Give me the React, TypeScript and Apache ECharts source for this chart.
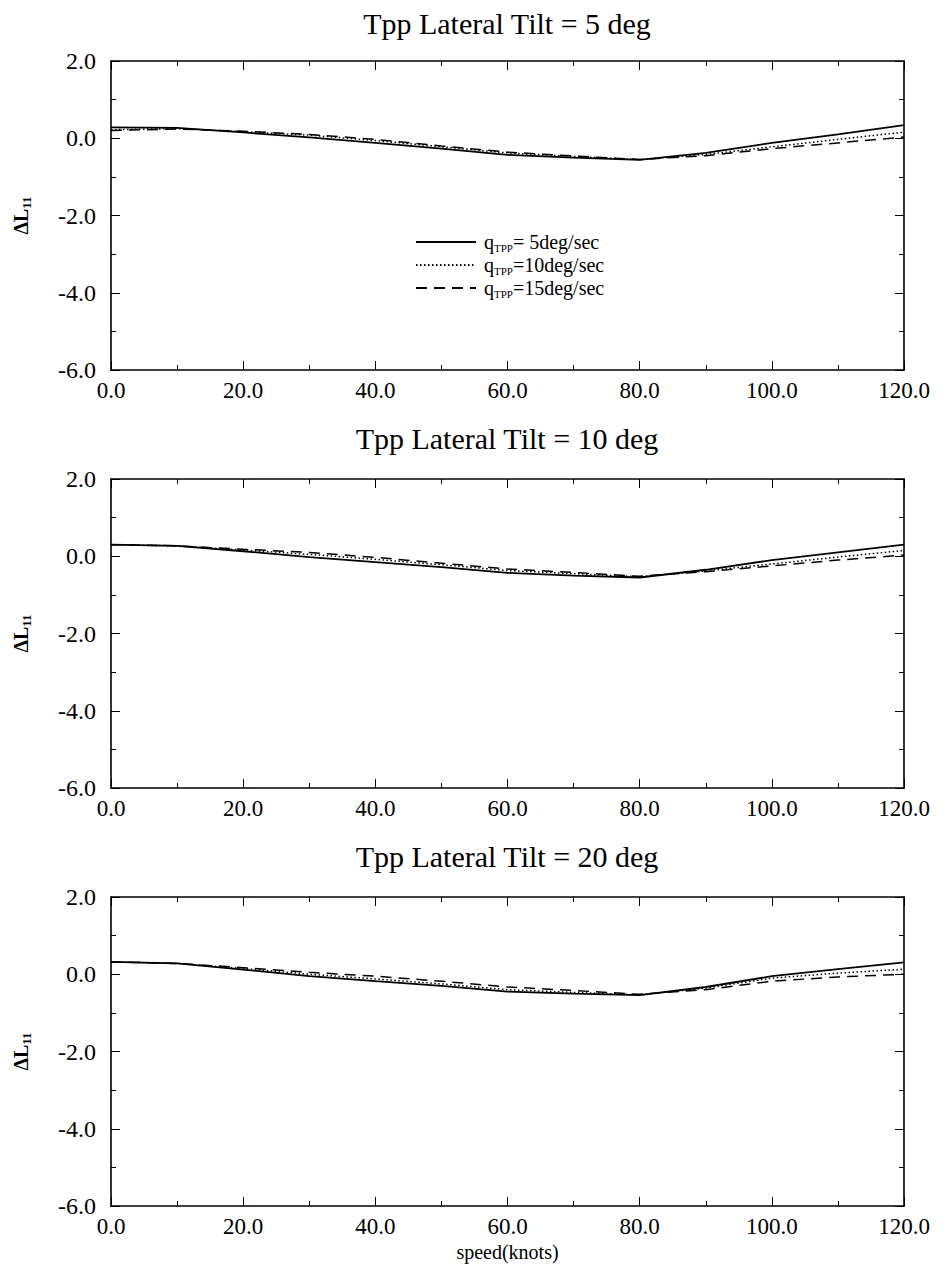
import React, { useEffect, useRef } from "react";
import * as echarts from "echarts";

const speeds = [0, 10, 20, 30, 40, 50, 60, 70, 80, 90, 100, 110, 120];
const panelTitles = ["Tpp Lateral Tilt = 5 deg", "Tpp Lateral Tilt = 10 deg", "Tpp Lateral Tilt = 20 deg"];
const seriesNames = ["q5", "q10", "q15"];
const legendLabels = ["= 5deg/sec", "=10deg/sec", "=15deg/sec"];

// Tilt 5 deg
const p1Solid = [0.28, 0.27, 0.15, 0.02, -0.12, -0.27, -0.43, -0.5, -0.56, -0.38, -0.12, 0.1, 0.34];
const p1Dotted = [0.22, 0.25, 0.17, 0.08, -0.06, -0.22, -0.38, -0.47, -0.55, -0.42, -0.22, -0.03, 0.16];
const p1Dashed = [0.2, 0.24, 0.18, 0.1, -0.03, -0.2, -0.36, -0.46, -0.55, -0.45, -0.27, -0.12, 0.03];
// Tilt 10 deg
const p2Solid = [0.3, 0.27, 0.13, -0.02, -0.15, -0.28, -0.43, -0.5, -0.55, -0.35, -0.1, 0.1, 0.3];
const p2Dotted = [0.3, 0.27, 0.16, 0.05, -0.08, -0.22, -0.37, -0.45, -0.53, -0.38, -0.2, -0.02, 0.15];
const p2Dashed = [0.3, 0.27, 0.18, 0.1, -0.03, -0.18, -0.33, -0.42, -0.52, -0.4, -0.25, -0.1, 0.03];
// Tilt 20 deg
const p3Solid = [0.32, 0.28, 0.12, -0.05, -0.18, -0.3, -0.45, -0.5, -0.54, -0.33, -0.05, 0.13, 0.31];
const p3Dotted = [0.32, 0.28, 0.15, 0.0, -0.12, -0.25, -0.4, -0.47, -0.53, -0.36, -0.1, 0.03, 0.13];
const p3Dashed = [0.32, 0.28, 0.17, 0.05, -0.05, -0.18, -0.33, -0.42, -0.52, -0.4, -0.18, -0.07, 0.0];

const panels = [
  [p1Solid, p1Dotted, p1Dashed],
  [p2Solid, p2Dotted, p2Dashed],
  [p3Solid, p3Dotted, p3Dashed],
];

const SERIF = "Liberation Serif";

export default function App() {
  const ref = useRef<HTMLDivElement>(null);
  useEffect(() => {
    if (!ref.current) return;
    const chart = echarts.init(ref.current, undefined, { renderer: "svg" });
    const gridTops = [53, 471, 889];
    const gridH = 309;
    const grids: any[] = [];
    const xAxes: any[] = [];
    const yAxes: any[] = [];
    const series: any[] = [];
    const titles: any[] = [];
    const lineTypes: any[] = ["solid", [1.5, 2.5], [11, 7]];
    const axisLine = { show: true, onZero: false, lineStyle: { color: "#000", width: 1.6 } };
    gridTops.forEach((top, i) => {
      grids.push({ left: 103, right: 29, top, height: gridH, show: false, containLabel: false, outerBoundsMode: "none" });
      titles.push({
        text: panelTitles[i],
        left: 499,
        textAlign: "center",
        top: Math.max(0, top - 56),
        padding: 0,
        textStyle: { fontFamily: SERIF, fontSize: 30, fontWeight: "normal", color: "#000" },
      });
      const xBase = {
        type: "value",
        gridIndex: i,
        min: 0,
        max: 120,
        interval: 20,
        axisLine,
        splitLine: { show: false },
        axisTick: { show: true, inside: true, length: 9, lineStyle: { color: "#000", width: 1 } },
        minorTick: { show: true, splitNumber: 2, length: 5, lineStyle: { color: "#000", width: 1 } },
      };
      xAxes.push({
        ...xBase,
        position: "bottom",
        axisLabel: {
          show: true,
          margin: 9,
          fontFamily: SERIF,
          fontSize: 23,
          color: "#000",
          formatter: (v: number) => v.toFixed(1),
        },
        name: i === 2 ? "speed(knots)" : "",
        nameLocation: "middle",
        nameGap: 36,
        nameTextStyle: { fontFamily: SERIF, fontSize: 20, color: "#000" },
      });
      xAxes.push({ ...xBase, position: "top", axisLabel: { show: false } });
      const yBase = {
        type: "value",
        gridIndex: i,
        min: -6,
        max: 2,
        interval: 2,
        axisLine,
        splitLine: { show: false },
        axisTick: { show: true, inside: true, length: 9, lineStyle: { color: "#000", width: 1 } },
        minorTick: { show: true, splitNumber: 2, length: 5, lineStyle: { color: "#000", width: 1 } },
      };
      yAxes.push({
        ...yBase,
        position: "left",
        axisLabel: {
          show: true,
          margin: 15,
          fontFamily: SERIF,
          fontSize: 24,
          color: "#000",
          formatter: (v: number) => v.toFixed(1),
        },
        name: "{d|ΔL}{s|11}",
        nameLocation: "middle",
        nameRotate: 90,
        nameGap: 78,
        nameTextStyle: {
          fontFamily: SERIF,
          color: "#000",
          rich: {
            d: { fontFamily: SERIF, fontSize: 20, fontWeight: "bold", color: "#000", lineHeight: 24 },
            s: { fontFamily: SERIF, fontSize: 13, fontWeight: "bold", color: "#000", verticalAlign: "bottom", lineHeight: 16 },
          },
        },
      });
      yAxes.push({ ...yBase, position: "right", axisLabel: { show: false } });
      panels[i].forEach((vals, k) => {
        series.push({
          name: seriesNames[k],
          type: "line",
          xAxisIndex: i * 2,
          yAxisIndex: i * 2,
          data: speeds.map((s, j) => [s, vals[j]]),
          showSymbol: false,
          symbol: "none",
          lineStyle: { color: "#000", width: k === 0 ? 1.8 : 1.5, type: lineTypes[k] },
          itemStyle: { color: "#000" },
          z: 3 - k,
        });
      });
    });

    chart.setOption({
      animation: false,
      backgroundColor: "#fff",
      textStyle: { fontFamily: SERIF, color: "#000" },
      title: titles,
      grid: grids,
      xAxis: xAxes,
      yAxis: yAxes,
      series,
      legend: {
        data: seriesNames,
        orient: "vertical",
        left: 402,
        top: 219,
        itemWidth: 60,
        itemHeight: 1,
        itemGap: 2,
        selectedMode: false,
        itemStyle: { opacity: 0 },
        formatter: (name: string) => {
          const idx = seriesNames.indexOf(name);
          return "{q|q}{s|TPP}{q|" + legendLabels[idx] + "}";
        },
        textStyle: {
          fontFamily: SERIF,
          color: "#000",
          padding: [0, 0, 0, 3],
          rich: {
            q: { fontFamily: SERIF, fontSize: 20, color: "#000", lineHeight: 22 },
            s: { fontFamily: SERIF, fontSize: 11, color: "#000", verticalAlign: "bottom", lineHeight: 16 },
          },
        },
      },
    });
    return () => chart.dispose();
  }, []);
  return <div ref={ref} style={{ width: 925, height: 1256 }} />;
}
